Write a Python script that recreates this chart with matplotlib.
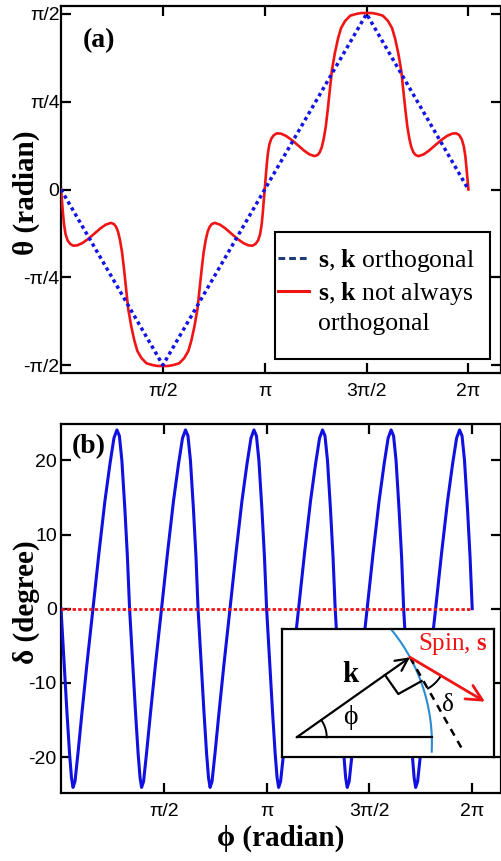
import matplotlib
matplotlib.use('Agg')
import matplotlib.pyplot as plt
from matplotlib.lines import Line2D
from matplotlib.patches import Rectangle
import numpy as np

plt.rcParams['font.family'] = ['Liberation Sans', 'DejaVu Sans']
plt.rcParams['mathtext.fontset'] = 'custom'
plt.rcParams['mathtext.rm'] = 'Liberation Serif'
plt.rcParams['mathtext.bf'] = 'Liberation Serif:bold'
plt.rcParams['mathtext.it'] = 'Liberation Serif:italic'

SERIF = ['Liberation Serif', 'DejaVu Serif']
HALF_PI = np.pi / 2

# ---- panel (a): phi and theta in units of pi/2 ----
orth_phi = [0, 1, 3, 4]
orth_theta = [0, -1, 1, 0]

red_phi = [0, 0.01, 0.02, 0.03, 0.045, 0.065, 0.09, 0.12, 0.16, 0.21, 0.27, 0.33, 0.39, 0.44,
           0.49, 0.52, 0.54, 0.56, 0.58, 0.60, 0.62, 0.64, 0.66, 0.69, 0.72, 0.75, 0.79,
           0.84, 0.90, 0.95, 1.0,
           1.05, 1.10, 1.16, 1.21, 1.25, 1.28, 1.31, 1.34, 1.36, 1.38, 1.40, 1.42, 1.44,
           1.46, 1.48, 1.51, 1.56, 1.61, 1.67, 1.73, 1.79, 1.84, 1.88, 1.91, 1.935, 1.955,
           1.97, 1.98, 1.99, 2.0,
           2.01, 2.02, 2.03, 2.045, 2.065, 2.09, 2.12, 2.16, 2.21, 2.27, 2.33, 2.39, 2.44,
           2.49, 2.52, 2.54, 2.56, 2.58, 2.60, 2.62, 2.64, 2.66, 2.69, 2.72, 2.75, 2.79,
           2.84, 2.90, 2.95, 3.0,
           3.05, 3.10, 3.16, 3.21, 3.25, 3.28, 3.31, 3.34, 3.36, 3.38, 3.40, 3.42, 3.44,
           3.46, 3.48, 3.51, 3.56, 3.61, 3.67, 3.73, 3.79, 3.84, 3.88, 3.91, 3.935, 3.955,
           3.97, 3.98, 3.99, 4.0]
red_theta = [0, -0.07, -0.14, -0.20, -0.255, -0.29, -0.31, -0.32, -0.318, -0.305, -0.28, -0.25, -0.22, -0.20,
             -0.19, -0.197, -0.212, -0.24, -0.29, -0.36, -0.46, -0.57, -0.68, -0.78, -0.86, -0.92, -0.96,
             -0.99, -1.0, -1.005, -1.005,
             -1.005, -1.0, -0.99, -0.96, -0.92, -0.86, -0.78, -0.68, -0.57, -0.46, -0.36, -0.29, -0.24,
             -0.212, -0.197, -0.19, -0.20, -0.22, -0.25, -0.28, -0.305, -0.318, -0.32, -0.31, -0.29, -0.255,
             -0.20, -0.14, -0.07, 0,
             0.07, 0.14, 0.20, 0.255, 0.29, 0.31, 0.32, 0.318, 0.305, 0.28, 0.25, 0.22, 0.20,
             0.19, 0.197, 0.212, 0.24, 0.29, 0.36, 0.46, 0.57, 0.68, 0.78, 0.86, 0.92, 0.96,
             0.99, 1.0, 1.005, 1.005,
             1.005, 1.0, 0.99, 0.96, 0.92, 0.86, 0.78, 0.68, 0.57, 0.46, 0.36, 0.29, 0.24,
             0.212, 0.197, 0.19, 0.20, 0.22, 0.25, 0.28, 0.305, 0.318, 0.32, 0.31, 0.285, 0.245,
             0.19, 0.13, 0.065, 0]

# ---- panel (b): phi in units of pi/2, delta in degrees ----
delta_phi = [0.000, 0.029, 0.058, 0.083, 0.102, 0.117, 0.136, 0.165, 0.204, 0.252,
             0.311, 0.369, 0.427, 0.476, 0.515, 0.544, 0.568, 0.592, 0.621, 0.646,
             0.667, 0.696, 0.725, 0.750, 0.769, 0.784, 0.803, 0.832, 0.871, 0.919,
             0.978, 1.036, 1.094, 1.143, 1.182, 1.211, 1.235, 1.259, 1.288, 1.313,
             1.333, 1.362, 1.391, 1.416, 1.435, 1.450, 1.469, 1.498, 1.537, 1.585,
             1.644, 1.702, 1.760, 1.809, 1.848, 1.877, 1.901, 1.925, 1.954, 1.979,
             2.000, 2.029, 2.058, 2.083, 2.102, 2.117, 2.136, 2.165, 2.204, 2.252,
             2.311, 2.369, 2.427, 2.476, 2.515, 2.544, 2.568, 2.592, 2.621, 2.646,
             2.667, 2.696, 2.725, 2.750, 2.769, 2.784, 2.803, 2.832, 2.871, 2.919,
             2.978, 3.036, 3.094, 3.143, 3.182, 3.211, 3.235, 3.259, 3.288, 3.313,
             3.333, 3.362, 3.391, 3.416, 3.435, 3.450, 3.469, 3.498, 3.537, 3.585,
             3.644, 3.702, 3.760, 3.809, 3.848, 3.877, 3.901, 3.925, 3.954, 3.979,
             4.000]
delta_deg = [0, -7, -14, -19.5, -22.8, -24.1, -23.3, -19.5, -14, -7.5,
             0, 7.5, 14.5, 19.5, 23, 24.1, 23.3, 20, 13.5, 7,
             0, -7, -14, -19.5, -22.8, -24.1, -23.3, -19.5, -14, -7.5,
             0, 7.5, 14.5, 19.5, 23, 24.1, 23.3, 20, 13.5, 7,
             0, -7, -14, -19.5, -22.8, -24.1, -23.3, -19.5, -14, -7.5,
             0, 7.5, 14.5, 19.5, 23, 24.1, 23.3, 20, 13.5, 7,
             0, -7, -14, -19.5, -22.8, -24.1, -23.3, -19.5, -14, -7.5,
             0, 7.5, 14.5, 19.5, 23, 24.1, 23.3, 20, 13.5, 7,
             0, -7, -14, -19.5, -22.8, -24.1, -23.3, -19.5, -14, -7.5,
             0, 7.5, 14.5, 19.5, 23, 24.1, 23.3, 20, 13.5, 7,
             0, -7, -14, -19.5, -22.8, -24.1, -23.3, -19.5, -14, -7.5,
             0, 7.5, 14.5, 19.5, 23, 24.1, 23.3, 20, 13.5, 7,
             0]
zero_phi = [0, 4]
zero_delta = [0, 0]

x_ticks = [1, 2, 3, 4]
x_ticklabels = ['\u03c0/2', '\u03c0', '3\u03c0/2', '2\u03c0']
a_yticks = [-1, -0.5, 0, 0.5, 1]
a_yticklabels = ['-\u03c0/2', '-\u03c0/4', '0', '\u03c0/4', '\u03c0/2']
b_yticks = [-20, -10, 0, 10, 20]
b_yticklabels = ['-20', '-10', '0', '10', '20']


def style_axes(ax, ypad):
    for sp in ax.spines.values():
        sp.set_linewidth(1.6)
    ax.tick_params(direction='in', length=7, width=1.6, top=True, right=True,
                   labelsize=14, colors='black')
    ax.tick_params(axis='y', pad=ypad)
    ax.tick_params(axis='x', pad=7)


fig = plt.figure(figsize=(5.02, 8.61), dpi=100)

# ================= panel (a) =================
ax_a = fig.add_axes([61 / 502, 1 - 373 / 861, 440 / 502, 367 / 861])
ax_a.plot(np.array(red_phi) * HALF_PI, np.array(red_theta) * HALF_PI,
          color='#f01414', lw=1.9, zorder=3)
ax_a.plot(np.array(orth_phi) * HALF_PI, np.array(orth_theta) * HALF_PI,
          color='#1414e6', lw=2.5, ls=(0, (1, 1)), zorder=4)
ax_a.set_xlim(0, 4.32 * HALF_PI)
ax_a.set_ylim(-1.045 * HALF_PI, 1.045 * HALF_PI)
ax_a.set_xticks(np.array(x_ticks) * HALF_PI)
ax_a.set_xticklabels(x_ticklabels)
ax_a.set_yticks(np.array(a_yticks) * HALF_PI)
ax_a.set_yticklabels(a_yticklabels)
style_axes(ax_a, 1)
ax_a.set_ylabel('\u03b8 (radian)', fontfamily=SERIF, fontweight='bold', fontsize=21)
ax_a.yaxis.set_label_coords(-0.048, 0.49)
ax_a.text(0.0864, 0.907, '(a)', transform=ax_a.transAxes, fontfamily=SERIF,
          fontweight='bold', fontsize=20, ha='center', va='center')

# legend box drawn separately so its size matches the original
ax_a.add_patch(Rectangle((0.4864, 0.0381), 0.4886, 0.346, transform=ax_a.transAxes,
                         facecolor='white', edgecolor='black', lw=1.5, zorder=5))
handles = [Line2D([], [], color='#1f3b78', ls=(0, (2.2, 1.3)), lw=2.2),
           Line2D([], [], color='#f01414', lw=2.2),
           Line2D([], [], color='none')]
labels = [r'$\mathbf{s}$, $\mathbf{k}$ orthogonal',
          r'$\mathbf{s}$, $\mathbf{k}$ not always',
          'orthogonal']
leg = ax_a.legend(handles, labels, loc='upper left', bbox_to_anchor=(0.493, 0.343),
                  frameon=False, prop={'family': SERIF, 'size': 18.5},
                  handlelength=1.2, handletextpad=0.35, borderpad=0,
                  borderaxespad=0, labelspacing=0.21)
leg.set_zorder(6)

# ================= panel (b) =================
ax_b = fig.add_axes([61 / 502, 1 - 793 / 861, 440 / 502, 369 / 861])
ax_b.plot(np.array(delta_phi) * HALF_PI, delta_deg, color='#1010e0', lw=2.2, zorder=3)
ax_b.plot(np.array(zero_phi) * HALF_PI, zero_delta, color='#f01414', lw=2,
          ls=(0, (1.2, 0.8)), zorder=4)
ax_b.set_xlim(0, 4.28 * HALF_PI)
ax_b.set_ylim(-24.85, 24.9)
ax_b.set_xticks(np.array(x_ticks) * HALF_PI)
ax_b.set_xticklabels(x_ticklabels)
ax_b.set_yticks(b_yticks)
ax_b.set_yticklabels(b_yticklabels)
style_axes(ax_b, 3)
ax_b.set_ylabel('\u03b4 (degree)', fontfamily=SERIF, fontweight='bold', fontsize=21)
ax_b.yaxis.set_label_coords(-0.048, 0.518)
ax_b.set_xlabel('\u03d5 (radian)', fontfamily=SERIF, fontweight='bold', fontsize=21)
ax_b.xaxis.set_label_coords(0.5, -0.085)
ax_b.text(0.0636, 0.9377, '(b)', transform=ax_b.transAxes, fontfamily=SERIF,
          fontweight='bold', fontsize=20, ha='center', va='center')

# ================= inset sketch =================
ins = fig.add_axes([282 / 502, 1 - 757 / 861, 212 / 502, 128 / 861], zorder=10)
ins.set_xlim(0, 212)
ins.set_ylim(128, 0)
ins.set_xticks([])
ins.set_yticks([])
ins.set_facecolor('white')
for sp in ins.spines.values():
    sp.set_linewidth(1.6)

vertex = (14.7, 108.3)
tip = (128, 28.3)
# blue arc
arc_a = np.radians(np.linspace(-2.7, 39.1, 60))
ins.plot(-29.7 + 179.6 * np.cos(arc_a), 114.25 - 179.6 * np.sin(arc_a),
         color='#2b8cd0', lw=1.5)
# base line
ins.plot([vertex[0], 149.7], [vertex[1], vertex[1]], color='black', lw=1.6)
# k vector
ins.annotate('', xy=tip, xytext=vertex,
             arrowprops=dict(arrowstyle='->', lw=1.6, color='black',
                             mutation_scale=22, shrinkA=0, shrinkB=0))
# right-angle mark
ins.plot([103, 116.3, 139.7], [46, 65, 52], color='black', lw=1.6)
# dashed normal
ins.plot([tip[0], 179.7], [tip[1], 119.3], color='black', lw=1.8, ls=(0, (3, 2.5)))
# angle marks
phi_a = np.radians(np.linspace(0, 35, 20))
ins.plot(vertex[0] + 30 * np.cos(phi_a), vertex[1] - 30 * np.sin(phi_a), color='black', lw=1.4)
del_a = np.radians(np.linspace(31, 60, 20))
ins.plot(tip[0] + 36 * np.cos(del_a), tip[1] + 36 * np.sin(del_a), color='black', lw=1.4)
# spin vector
ins.annotate('', xy=(203, 72.7), xytext=tip,
             arrowprops=dict(arrowstyle='->', lw=2, color='#f01414',
                             mutation_scale=28, shrinkA=0, shrinkB=0))
ins.text(68, 46, 'k', fontfamily=SERIF, fontweight='bold', fontsize=21,
         ha='center', va='center')
ins.text(68, 88, '\u03d5', fontfamily=SERIF, fontsize=20, ha='center', va='center')
ins.text(166, 76, '\u03b4', fontfamily=SERIF, fontsize=18, ha='center', va='center')
ins.text(171, 15, r'Spin, $\mathbf{s}$', fontfamily=SERIF, fontsize=18, color='#f01414',
         ha='center', va='center')

fig.savefig('out.png', dpi=100)
